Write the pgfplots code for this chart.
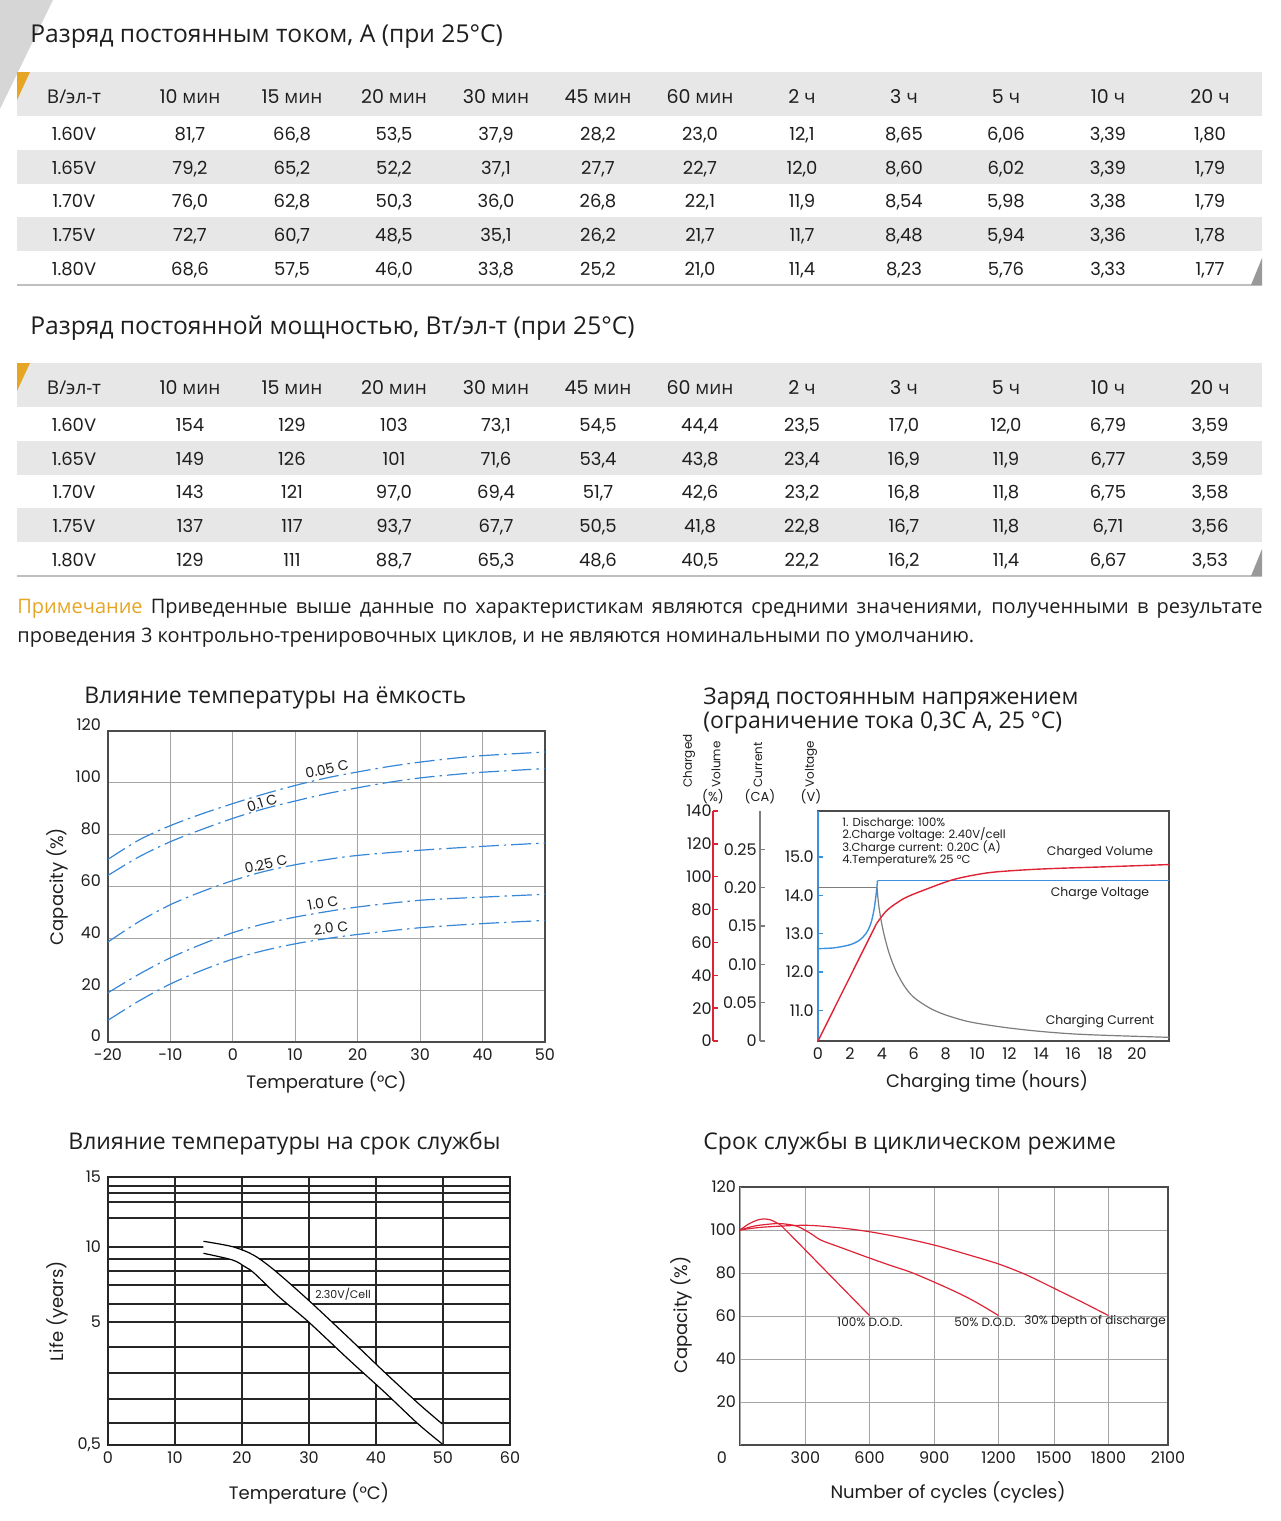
\documentclass[border=0pt]{standalone}
\usepackage{pgfplots}
\pgfplotsset{compat=1.18}
\usepackage{fontspec}
\setmainfont{Open Sans}
\newfontfamily\lat{Poppins}
\definecolor{tgrey}{RGB}{231,231,231}
\definecolor{gold}{RGB}{230,165,35}
\definecolor{txt}{RGB}{30,30,30}
\definecolor{gridc}{RGB}{165,165,165}
\definecolor{boxc}{RGB}{75,75,75}
\definecolor{cblue}{RGB}{55,135,215}
\definecolor{cred}{RGB}{222,35,55}
\definecolor{vblue}{RGB}{60,145,222}
\definecolor{cgrey}{RGB}{125,125,125}
\newcommand{\fs}[1]{\fontsize{#1}{#1}\selectfont}
\newcommand{\trow}[3]{%
  \foreach \v [count=\i] in {#3} {
    \pgfmathsetmacro{\xx}{\i==1 ? 74 : 190+(\i-2)*102}
    \node[anchor=base, inner sep=0pt, font=#2, text=txt] at (\xx,#1) {\v};
  }}
\pgfplotsset{
  mybase/.style={scale only axis, anchor=south west,
    /pgf/number format/assume math mode=true,
    tick label style={font=\lat\fs{8}, text=txt},
    label style={font=\lat\fs{9}, text=txt},
  },
  c1/.style={cblue, line width=0.6pt, smooth, mark=none, dash pattern=on 10pt off 2.5pt on 1.2pt off 2.5pt},
  c4/.style={cred, line width=0.6pt, smooth, mark=none},
}
\begin{document}
\begin{tikzpicture}
\useasboundingbox (0,0) rectangle (640pt,-760.5pt);
\begin{scope}[x=0.5pt,y=-0.5pt]
\fill[black!16] (0,0) -- (53,0) -- (0,109) -- cycle;
% ---------- table 1
\node[anchor=base west, inner sep=0, font=\fs{12.3}, text=txt] at (30,42) {Разряд постоянным током, А (при 25°C)};
\fill[tgrey] (17,72) rectangle (1262,116);
\fill[tgrey] (17,150) rectangle (1262,184);
\fill[tgrey] (17,217) rectangle (1262,251);
\fill[gold] (17,72) -- (30,72) -- (17,100) -- cycle;
\draw[black!25, line width=0.6pt] (17,285) -- (1262,285);
\fill[black!40] (1262,258) -- (1262,285) -- (1251,285) -- cycle;
\trow{103}{\fs{9.5}}{{В/эл-т},{{\lat 10} мин},{{\lat 15} мин},{{\lat 20} мин},{{\lat 30} мин},{{\lat 45} мин},{{\lat 60} мин},{{\lat 2} ч},{{\lat 3} ч},{{\lat 5} ч},{{\lat 10} ч},{{\lat 20} ч}}
\trow{140}{\lat\fs{9}}{1.60V,{81,7},{66,8},{53,5},{37,9},{28,2},{23,0},{12,1},{8,65},{6,06},{3,39},{1,80}}
\trow{174}{\lat\fs{9}}{1.65V,{79,2},{65,2},{52,2},{37,1},{27,7},{22,7},{12,0},{8,60},{6,02},{3,39},{1,79}}
\trow{207}{\lat\fs{9}}{1.70V,{76,0},{62,8},{50,3},{36,0},{26,8},{22,1},{11,9},{8,54},{5,98},{3,38},{1,79}}
\trow{241}{\lat\fs{9}}{1.75V,{72,7},{60,7},{48,5},{35,1},{26,2},{21,7},{11,7},{8,48},{5,94},{3,36},{1,78}}
\trow{275}{\lat\fs{9}}{1.80V,{68,6},{57,5},{46,0},{33,8},{25,2},{21,0},{11,4},{8,23},{5,76},{3,33},{1,77}}
% ---------- table 2
\node[anchor=base west, inner sep=0, font=\fs{12.3}, text=txt] at (30,334) {Разряд постоянной мощностью, Вт/эл-т (при 25°C)};
\fill[tgrey] (17,363) rectangle (1262,407);
\fill[tgrey] (17,441) rectangle (1262,475);
\fill[tgrey] (17,508) rectangle (1262,542);
\fill[gold] (17,363) -- (30,363) -- (17,391) -- cycle;
\draw[black!25, line width=0.6pt] (17,576) -- (1262,576);
\fill[black!40] (1262,549) -- (1262,576) -- (1251,576) -- cycle;
\trow{394}{\fs{9.5}}{{В/эл-т},{{\lat 10} мин},{{\lat 15} мин},{{\lat 20} мин},{{\lat 30} мин},{{\lat 45} мин},{{\lat 60} мин},{{\lat 2} ч},{{\lat 3} ч},{{\lat 5} ч},{{\lat 10} ч},{{\lat 20} ч}}
\trow{431}{\lat\fs{9}}{1.60V,154,129,103,{73,1},{54,5},{44,4},{23,5},{17,0},{12,0},{6,79},{3,59}}
\trow{465}{\lat\fs{9}}{1.65V,149,126,101,{71,6},{53,4},{43,8},{23,4},{16,9},{11,9},{6,77},{3,59}}
\trow{498}{\lat\fs{9}}{1.70V,143,121,{97,0},{69,4},{51,7},{42,6},{23,2},{16,8},{11,8},{6,75},{3,58}}
\trow{532}{\lat\fs{9}}{1.75V,137,117,{93,7},{67,7},{50,5},{41,8},{22,8},{16,7},{11,8},{6,71},{3,56}}
\trow{566}{\lat\fs{9}}{1.80V,129,111,{88,7},{65,3},{48,6},{40,5},{22,2},{16,2},{11,4},{6,67},{3,53}}
% ---------- note
\node[anchor=base west, inner sep=0, font=\fs{10}, text=txt] at (17,613) {\makebox[622.5pt][s]{\textcolor{gold}{Примечание} Приведенные выше данные по характеристикам являются средними значениями, полученными в результате}};
\node[anchor=base west, inner sep=0, font=\fs{10}, text=txt] at (17,642) {проведения 3 контрольно-тренировочных циклов, и не являются номинальными по умолчанию.};
% ---------- chart titles
\node[anchor=base west, inner sep=0, font=\fs{11.5}, text=txt] at (84,703) {Влияние температуры на ёмкость};
\node[anchor=base west, inner sep=0, font=\fs{11.5}, text=txt] at (703,704) {Заряд постоянным напряжением};
\node[anchor=base west, inner sep=0, font=\fs{11.5}, text=txt] at (703,728) {(ограничение тока 0,3С А, 25 °C)};
\node[anchor=base west, inner sep=0, font=\fs{11.5}, text=txt] at (68,1149) {Влияние температуры на срок службы};
\node[anchor=base west, inner sep=0, font=\fs{11.5}, text=txt] at (703,1149) {Срок службы в циклическом режиме};
\end{scope}

% ================= chart 1
\begin{axis}[mybase, at={(54pt,-521pt)}, width=218.5pt, height=155.5pt,
  xmin=-20, xmax=50, ymin=0, ymax=120,
  xtick={-20,-10,0,10,20,30,40,50}, ytick={0,20,40,60,80,100,120},
  grid=major, major grid style={gridc, line width=0.5pt},
  axis line style={boxc, line width=0.6pt}, tick style={draw=none},
  yticklabel style={yshift=3pt},
  xlabel={Temperature (°C)}, ylabel={Capacity (\%)},
  xlabel style={at={(axis description cs:0.5,-0.1286)}, anchor=center},
  ylabel style={at={(axis description cs:-0.1167,0.5)}, anchor=center},
]
\addplot[c1] coordinates {(-20,70.5) (-15,78) (-10,83.5) (-5,88) (0,92) (5,95.7) (10,99) (15,101.9) (20,104.2) (25,106.3) (30,108) (35,109.4) (40,110.5) (50,111.9)};
\addplot[c1] coordinates {(-20,64.3) (-15,71.5) (-10,77.3) (-5,82) (0,86.3) (5,90) (10,93) (15,95.8) (20,98.1) (25,100.2) (30,101.9) (35,103.1) (40,104.1) (50,105.5)};
\addplot[c1] coordinates {(-20,38.6) (-15,46.5) (-10,53) (-5,58) (0,62.3) (5,65.8) (10,68.4) (15,70.4) (20,72) (30,74) (40,75.5) (50,76.8)};
\addplot[c1] coordinates {(-20,19) (-15,26.2) (-10,32.5) (-5,37.7) (0,42.2) (5,45.6) (10,48.2) (15,50.3) (20,52.1) (30,54.7) (40,55.9) (50,57)};
\addplot[c1] coordinates {(-20,8.4) (-15,15.9) (-10,22.4) (-5,27.6) (0,32) (5,35.3) (10,37.9) (15,39.9) (20,41.5) (30,44.1) (40,45.7) (50,46.9)};
\end{axis}

% ================= chart 2 : side scales
\begin{axis}[mybase, at={(356.5pt,-520.5pt)}, width=1pt, height=115pt,
  xmin=0, xmax=1, ymin=0, ymax=140, ytick={0,20,40,60,80,100,120,140},
  axis x line=none, axis y line=left, y axis line style={-, draw=cred, line width=0.7pt},
  ytick style={draw=cred, line width=0.7pt}, tick align=inside, major tick length=2.5pt,
  yticklabel style={inner xsep=0.5pt}]
\end{axis}
\begin{axis}[mybase, at={(380pt,-520.5pt)}, width=1pt, height=115pt,
  xmin=0, xmax=1, ymin=0, ymax=0.3, ytick={0,0.05,0.1,0.15,0.2,0.25},
  yticklabels={0,0.05,0.10,0.15,0.20,0.25},
  axis x line=none, axis y line=left, y axis line style={-, draw=cgrey, line width=0.6pt},
  ytick style={draw=cgrey, line width=0.6pt}, tick align=inside, major tick length=2.5pt,
  yticklabel style={inner xsep=1.5pt}]
\end{axis}
% main box
\begin{axis}[mybase, at={(409pt,-520.5pt)}, width=175.5pt, height=115pt,
  xmin=0, xmax=22, ymin=10.2, ymax=16.2, clip=false,
  xtick={0,2,4,6,8,10,12,14,16,18,20}, ytick={11,12,13,14,15},
  yticklabels={11.0,12.0,13.0,14.0,15.0},
  axis line style={boxc, line width=0.6pt},
  xtick style={draw=none}, ytick style={draw=vblue, line width=0.6pt},
  ytick pos=left, tick align=inside, major tick length=2.5pt,
  yticklabel style={inner xsep=2pt},
  xlabel={Charging time (hours)},
  xlabel style={at={(axis description cs:0.4815,-0.178)}, anchor=center}]
\addplot[vblue, line width=0.8pt] coordinates {(0,10.2) (0,16.2)};
\addplot[vblue, line width=0.7pt, smooth] coordinates {(0,12.61) (1.0,12.63) (2.0,12.71) (2.6,12.83) (3.0,13.0) (3.3,13.25) (3.5,13.6) (3.62,13.95) (3.7,14.25) (3.73,14.39)};
\addplot[vblue, line width=0.7pt] coordinates {(3.73,14.39) (22,14.39)};
\end{axis}
\begin{axis}[mybase, at={(409pt,-520.5pt)}, width=175.5pt, height=115pt,
  xmin=0, xmax=22, ymin=0, ymax=0.3, hide axis, clip=false]
\addplot[cgrey, line width=0.6pt] coordinates {(0,0.2) (3.7,0.2)};
\addplot[cgrey, line width=0.6pt, smooth] coordinates {(3.7,0.2) (3.8,0.178) (3.95,0.158) (4.15,0.138) (4.45,0.115) (4.85,0.093) (5.4,0.072) (6.0,0.057) (7.0,0.043) (8.0,0.034) (9.5,0.025) (11.6,0.018) (13.7,0.013) (15.8,0.0095) (17.9,0.0075) (22,0.0048)};
\end{axis}
\begin{axis}[mybase, at={(409pt,-520.5pt)}, width=175.5pt, height=115pt,
  xmin=0, xmax=22, ymin=0, ymax=140, hide axis, clip=false]
\addplot[cred, line width=0.7pt] coordinates {(0,0) (3.67,71.5)};
\addplot[cred, line width=0.7pt, smooth] coordinates {(3.67,71.5) (4.33,79.6) (5.375,86.7) (6.625,91.8) (8.5,98.3) (10.58,102.3) (12.67,104) (14.75,105) (17.875,106) (22,107.4)};
\end{axis}

% ================= chart 3
\begin{axis}[mybase, at={(54pt,-722.5pt)}, width=201pt, height=134pt,
  xmin=0, xmax=60, ymin=0, ymax=268,
  xtick={0,10,20,30,40,50,60}, ytick={0,123,198,268}, yticklabels={{0,5},5,10,15},
  extra y ticks={22,46,72,98,141,160,174,186,227,243,252,259},
  extra y tick labels={}, extra y tick style={grid=major},
  grid=major, major grid style={black!85, line width=0.6pt},
  axis line style={black!85, line width=0.6pt}, tick style={draw=none},
  xlabel={Temperature (°C)}, ylabel={Life (years)},
  xlabel style={at={(axis description cs:0.5,-0.179)}, anchor=center},
  ylabel style={at={(axis description cs:-0.1269,0.5)}, anchor=center}]
\addplot[fill=white, draw=none] coordinates {(14.25,203.7) (18.6,198.3) (21.7,190) (24.8,175) (29.9,145) (36.0,106.7) (41.2,73.3) (46.3,41.7) (49.9,21) (49.9,1) (46.3,21) (41.2,53.3) (36.0,85) (29.9,123.3) (25.5,148.3) (21.8,172) (20.5,178) (18.6,185) (14.25,191.7)} -- cycle;
\addplot[black, line width=0.6pt, smooth] coordinates {(14.25,203.7) (18.6,198.3) (21.7,190) (24.8,175) (29.9,145) (36.0,106.7) (41.2,73.3) (46.3,41.7) (49.9,21)};
\addplot[black, line width=0.6pt, smooth] coordinates {(14.25,191.7) (18.6,185) (20.5,178) (21.8,172) (25.5,148.3) (29.9,123.3) (36.0,85) (41.2,53.3) (46.3,21) (49.9,1)};
\end{axis}

% ================= chart 4
\begin{axis}[mybase, at={(370pt,-722.5pt)}, width=214pt, height=129pt,
  xmin=0, xmax=428, ymin=0, ymax=120,
  xtick={0,65.4,129.5,194.2,258.6,314,368.5,428},
  xticklabels={,300,600,900,1200,1500,1800,2100},
  extra x ticks={0}, extra x tick labels={0}, extra x tick style={tick label style={xshift=-9pt}},
  ytick={20,40,60,80,100,120},
  grid=major, major grid style={gridc, line width=0.5pt},
  axis line style={boxc, line width=0.6pt}, tick style={draw=none},
  yticklabel style={xshift=1.5pt},
  xlabel={Number of cycles (cycles)}, ylabel={Capacity (\%)},
  xlabel style={at={(axis description cs:0.486,-0.182)}, anchor=center},
  ylabel style={at={(axis description cs:-0.1379,0.504)}, anchor=center}]
\addplot[c4] coordinates {(0,100) (8,102.6) (16,104.4) (22.4,105.1) (30,104.8) (38,103) (45,100.3) (87,80.4) (129.5,60.2)};
\addplot[c4] coordinates {(0,100) (12,101.6) (22.4,102.4) (39.6,103) (56.8,101.8) (70.6,98.4) (80.9,95.3) (100,92) (125.7,87.6) (150,83.6) (173.9,79.8) (211.8,72.1) (235,66.7) (258.6,60.2)};
\addplot[c4] coordinates {(0,100) (22.4,101.3) (65.4,102.2) (100,101) (129.5,99.2) (160,96.6) (194.2,93) (226,88.8) (258.6,84.2) (287,79) (314,72.9) (342,66.5) (368.5,60.2)};
\end{axis}

% ================= annotations
\begin{scope}[x=0.5pt,y=-0.5pt]
\node[rotate=12, font=\lat\fs{7}, text=txt] at (327,769) {0.05 C};
\node[rotate=17, font=\lat\fs{7}, text=txt] at (262,803) {0.1 C};
\node[rotate=12, font=\lat\fs{7}, text=txt] at (266,864) {0.25 C};
\node[rotate=10, font=\lat\fs{7}, text=txt] at (323,903) {1.0 C};
\node[rotate=8, font=\lat\fs{7}, text=txt] at (331,928) {2.0 C};
% chart 2 texts
\node[anchor=base west, inner sep=0, font=\lat\fs{5.8}, text=txt] at (842,826) {1. Discharge: 100\%};
\node[anchor=base west, inner sep=0, font=\lat\fs{5.8}, text=txt] at (842,838) {2.Charge voltage: 2.40V/cell};
\node[anchor=base west, inner sep=0, font=\lat\fs{5.8}, text=txt] at (842,851) {3.Charge current: 0.20C (A)};
\node[anchor=base west, inner sep=0, font=\lat\fs{5.8}, text=txt] at (842,863) {4.Temperature\% 25 °C};
\node[font=\lat\fs{6.2}, text=txt] at (1100,853) {Charged Volume};
\node[font=\lat\fs{6.2}, text=txt] at (1100,894) {Charge Voltage};
\node[font=\lat\fs{6.2}, text=txt] at (1100,1021) {Charging Current};
\node[rotate=90, anchor=west, inner sep=0, font=\lat\fs{6}, text=txt] at (689,788) {Charged};
\node[rotate=90, anchor=west, inner sep=0, font=\lat\fs{6}, text=txt] at (716,788) {Volume};
\node[rotate=90, anchor=west, inner sep=0, font=\lat\fs{6}, text=txt] at (758,788) {Current};
\node[rotate=90, anchor=west, inner sep=0, font=\lat\fs{6}, text=txt] at (811,788) {Voltage};
\node[font=\lat\fs{6.5}, text=txt] at (713,797) {(\%)};
\node[font=\lat\fs{6.5}, text=txt] at (760,797) {(CA)};
\node[font=\lat\fs{6.5}, text=txt] at (811,797) {(V)};
% chart 3
\node[font=\lat\fs{5.5}, text=txt] at (343,1294) {2.30V/Cell};
% chart 4
\node[font=\lat\fs{6}, text=txt] at (870,1322) {100\% D.O.D.};
\node[font=\lat\fs{6}, text=txt] at (985,1322) {50\% D.O.D.};
\node[font=\lat\fs{6}, text=txt] at (1095,1322) {30\% Depth of discharge};
\end{scope}
\end{tikzpicture}
\end{document}
